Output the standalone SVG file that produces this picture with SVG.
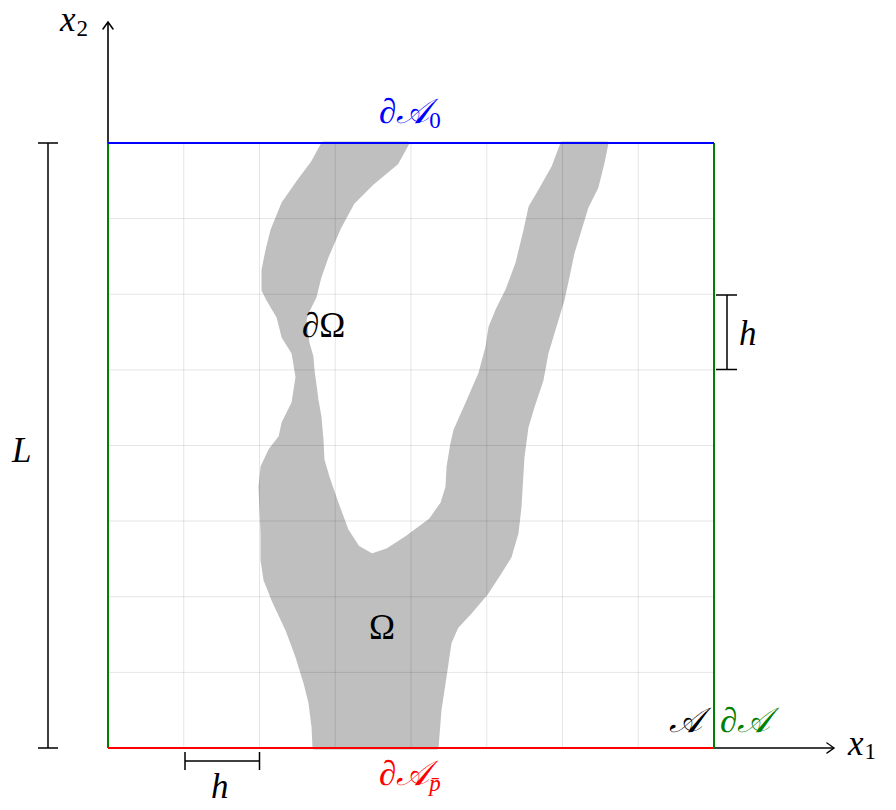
<svg xmlns="http://www.w3.org/2000/svg" width="896" height="810" viewBox="0 0 896 810">
<style>
.t{font-family:"Liberation Serif","DejaVu Serif",serif;font-size:35px;font-style:italic;fill:#000}
.u{font-style:normal}
.s{font-size:23px;font-style:normal}
.grid{stroke:#000;stroke-opacity:0.1;stroke-width:1;fill:none}
.dim{stroke:#000;stroke-width:1.5;fill:none}
.ax{stroke:#000;stroke-width:1.6;fill:none}
</style>
<defs>
<marker id="arr" markerWidth="14" markerHeight="14" refX="10" refY="7" orient="auto" markerUnits="userSpaceOnUse">
<path d="M3,2 Q8,5.5 10,7 Q8,8.5 3,12" fill="none" stroke="#000" stroke-width="1.5" stroke-linecap="round"/>
</marker>
</defs>
<rect width="896" height="810" fill="#fff"/>
<g id="vessel">
<polygon fill="#bfbfbf" stroke="#bfbfbf" stroke-width="3" stroke-linejoin="round" points="314,748 313,727 310,703 305,683 297,657 287,630 273,600 265,580 262,560 262,533 260,487 262,467 270,450 280,437 283,423 293,403 297,377 293,353 283,337 278,317 268,300 263,290 263,270 267,250 272,230 283,203 297,183 312,163 323,143 408,143 397,163 373,183 353,203 340,227 327,257 320,277 315,297 307,313 305,320 308,343 312,357 313,370 317,400 320,417 322,440 323,460 328,477 337,503 347,530 358,547 372,555 387,550 407,537 430,520 442,503 447,487 448,467 452,443 455,430 467,403 480,373 487,347 490,327 497,310 507,290 517,263 525,230 530,207 540,190 553,167 562,143 607,143 603,163 597,187 587,207 580,230 573,253 568,277 563,300 553,333 547,353 542,380 533,407 527,427 523,457 520,507 517,533 510,557 500,573 487,593 470,613 457,627 450,643 445,677 440,710 437,748"/>
</g>
<g id="grid" class="grid">
<path d="M183.75,143V748M259.5,143V748M335.25,143V748M411,143V748M486.75,143V748M562.5,143V748M638.25,143V748"/>
<path d="M108,218.6H714M108,294.25H714M108,369.9H714M108,445.5H714M108,521H714M108,596.75H714M108,672.4H714"/>
</g>
<g id="connectors">
<line class="ax" x1="108" y1="748" x2="108" y2="22" marker-end="url(#arr)"/>
<line class="ax" x1="108" y1="748" x2="834" y2="748" marker-end="url(#arr)"/>
</g>
<g id="boundary">
<line x1="108" y1="143" x2="108" y2="748" stroke="#008000" stroke-width="2"/>
<line x1="714" y1="143" x2="714" y2="748" stroke="#008000" stroke-width="2"/>
<line x1="108" y1="143" x2="714" y2="143" stroke="#0000ff" stroke-width="2"/>
<line x1="108" y1="748" x2="714" y2="748" stroke="#ff0000" stroke-width="2"/>
</g>
<g id="dim-L">
<path class="dim" d="M48,143V748M38,143H58M38,748H58"/>
<text class="t" x="12" y="462">L</text>
</g>
<g id="dim-h-right">
<path class="dim" d="M727,295V369.5M716,295H737M716,369.5H737"/>
<text class="t" x="739" y="345">h</text>
</g>
<g id="dim-h-bottom">
<path class="dim" d="M185,761H259.5M185,752V770M259.5,752V770"/>
<text class="t" x="211" y="798">h</text>
</g>
<g id="labels">
<text class="t" x="60" y="31">x<tspan class="s" dx="1" dy="5">2</tspan></text>
<text class="t" x="848" y="755">x<tspan class="s" dx="1" dy="4">1</tspan></text>
<text class="t" x="379" y="123" style="fill:#0000ff">∂𝒜<tspan class="s" dy="5">0</tspan></text>
<text class="t" x="379" y="785" style="fill:#ff0000">∂𝒜<tspan class="s" style="font-style:italic" dy="6">p̄</tspan></text>
<text class="t" x="669" y="732">𝒜</text>
<text class="t" x="720" y="732" style="fill:#008000">∂𝒜</text>
<text class="t" x="302" y="337">∂<tspan class="u">Ω</tspan></text>
<text class="t u" x="369" y="639">Ω</text>
</g>
</svg>
